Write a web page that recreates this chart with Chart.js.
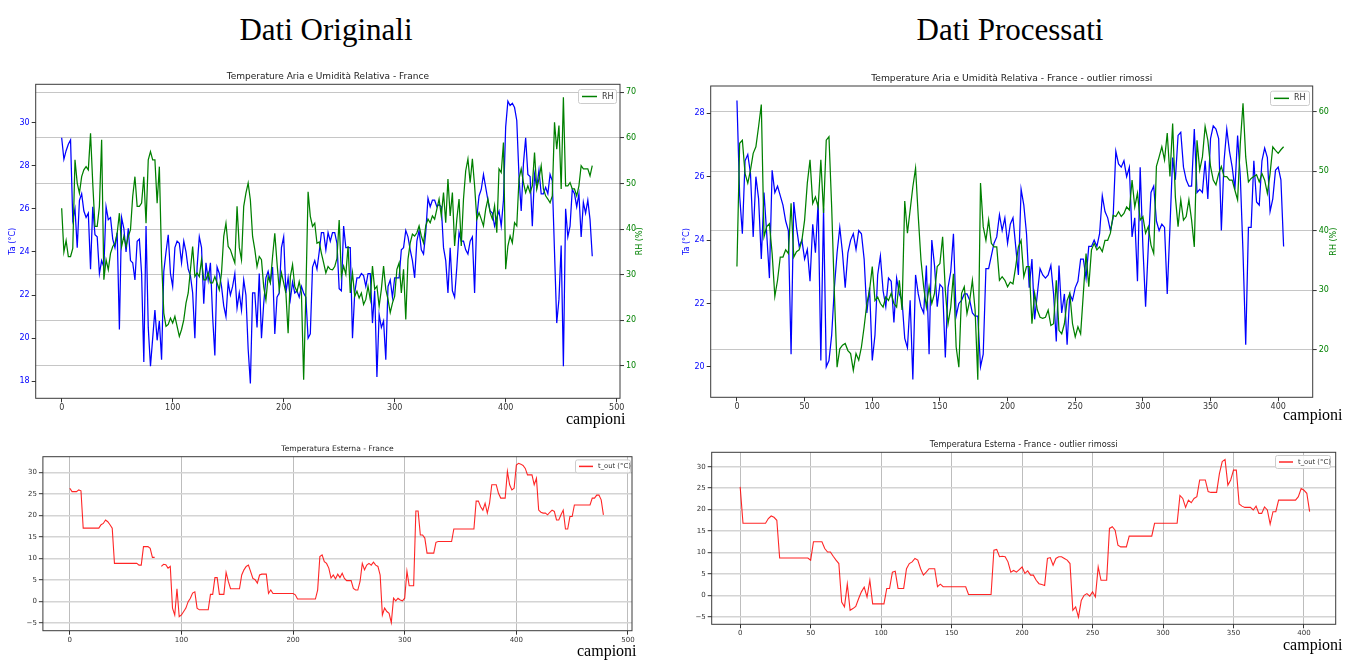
<!DOCTYPE html>
<html>
<head>
<meta charset="utf-8">
<script src="https://cdn.jsdelivr.net/npm/chart.js@4.4.1/dist/chart.umd.min.js"></script>
<style>
  html, body { margin: 0; padding: 0; background: #fff; width: 1355px; height: 662px; overflow: hidden; }
  canvas { position: absolute; }
  .hd { position: absolute; font-family: "Liberation Serif", "Times New Roman", serif; color: #000; white-space: nowrap; line-height: 1; text-align: center; }
  .xl { position: absolute; font-family: "Liberation Serif", "Times New Roman", serif; color: #000; white-space: nowrap; line-height: 1; font-size: 16px; }
</style>
</head>
<body>
<div class="hd" style="left:176px;top:14px;width:300px;font-size:31px;">Dati Originali</div>
<div class="hd" style="left:860px;top:14px;width:300px;font-size:31px;">Dati Processati</div>

<canvas id="taRhOrig" width="665" height="360" style="left:0px;top:60px;width:665px;height:360px;"></canvas>
<canvas id="taRhProc" width="685" height="360" style="left:670px;top:60px;width:685px;height:360px;"></canvas>
<canvas id="tOutOrigChart" width="660" height="220" style="left:0px;top:430px;width:660px;height:220px;"></canvas>
<canvas id="tOutProcChart" width="685" height="225" style="left:670px;top:425px;width:685px;height:225px;"></canvas>

<div class="xl" style="left:566px;top:411px;">campioni</div>
<div class="xl" style="left:1283px;top:407px;">campioni</div>
<div class="xl" style="left:577px;top:643px;">campioni</div>
<div class="xl" style="left:1283px;top:637px;">campioni</div>

<script>
// Readings are stored every two samples
const SAMPLE_STEP = 2;

// Raw series (samples 0..478)
const taOrig = [
  29.3, 28.3, 28.7, 29.0, 29.2, 25.5, 26.0, 24.2, 26.4, 26.7,
  25.9, 25.6, 25.8, 23.2, 26.1, 24.8, 24.7, 23.0, 23.6, 23.3,
  26.1, 25.5, 25.6, 24.6, 24.2, 24.9, 20.4, 25.6, 25.1, 24.0,
  25.1, 23.6, 23.5, 22.7, 24.5, 24.6, 23.0, 18.9, 25.2, 20.5,
  18.7, 20.0, 21.3, 19.9, 20.8, 19.0, 23.1, 24.0, 24.8, 23.0,
  22.4, 24.2, 24.5, 24.4, 23.5, 24.5, 24.0, 23.2, 22.9, 22.1,
  20.0, 23.3, 24.7, 24.2, 21.6, 23.5, 22.7, 23.5, 21.0, 19.2,
  23.3, 23.0, 22.4, 21.5, 21.0, 22.6, 22.0, 22.4, 23.0, 21.4,
  22.1, 21.3, 22.7, 22.0, 19.5, 17.9, 22.1, 22.1, 20.5, 23.0,
  20.0, 21.6, 22.8, 23.1, 22.6, 23.3, 20.2, 21.9, 22.1, 24.2,
  24.7, 22.1, 22.8, 21.8, 22.6, 22.1, 22.2, 21.9, 22.4, 22.1,
  21.9, 20.0, 20.2, 23.3, 23.6, 23.2, 24.0, 24.9, 24.9, 24.1,
  24.9, 24.5, 24.9, 24.9, 24.4, 22.3, 22.2, 25.2, 24.2, 24.2,
  24.2, 20.0, 22.1, 22.8, 22.8, 23.0, 22.9, 22.4, 23.0, 23.0,
  20.7, 22.2, 18.2, 21.1, 20.5, 20.8, 19.0, 22.4, 22.7, 21.9,
  22.8, 22.8, 22.8, 24.1, 24.2, 25.0, 24.7, 24.1, 23.6, 22.8,
  24.5, 25.0, 24.1, 23.9, 24.9, 26.5, 26.1, 26.4, 26.4, 26.1,
  26.2, 26.1, 24.2, 23.6, 22.1, 24.2, 22.2, 21.9, 23.3, 24.9,
  24.5, 24.5, 24.1, 23.9, 24.5, 24.7, 22.1, 25.6, 26.6, 26.9,
  27.6, 27.0, 26.4, 25.9, 25.8, 25.2, 25.6, 25.9, 25.2, 26.4,
  29.8, 31.0, 30.8, 30.9, 30.7, 30.1, 27.5, 25.9, 28.1, 29.3,
  27.6, 27.5, 25.2, 27.6, 27.0, 27.8, 26.7, 26.7, 27.0, 26.7,
  27.6, 27.3, 24.0, 20.7, 21.8, 24.3, 18.7, 26.0, 24.7, 25.2,
  26.9, 26.7, 26.1, 26.7, 24.7, 26.3, 25.8, 26.4, 25.5, 23.8
];
const rhOrig = [
  44.6, 35.0, 37.5, 34.0, 34.0, 35.8, 55.2, 50.1, 47.9, 51.5,
  53.0, 53.7, 53.0, 61.0, 50.0, 40.6, 40.6, 45.0, 59.6, 28.9,
  33.3, 31.1, 34.7, 36.2, 36.9, 39.1, 43.5, 36.2, 38.4, 36.2,
  38.4, 39.9, 47.2, 51.5, 45.0, 45.0, 45.7, 51.5, 41.3, 55.2,
  57.0, 55.2, 55.2, 45.7, 53.7, 33.3, 21.6, 18.7, 19.1, 20.5,
  19.4, 20.9, 18.7, 16.5, 18.0, 20.1, 23.8, 26.0, 31.1, 36.2,
  29.6, 30.4, 29.6, 33.3, 28.9, 28.9, 30.4, 28.2, 28.2, 29.6,
  28.2, 26.7, 30.4, 38.4, 41.3, 36.2, 35.5, 34.0, 32.6, 45.0,
  36.0, 33.3, 45.0, 47.9, 50.1, 46.4, 38.4, 35.5, 31.8, 34.0,
  33.3, 27.4, 24.5, 29.6, 28.2, 34.0, 39.1, 32.6, 26.7, 30.4,
  28.2, 26.0, 17.2, 29.6, 32.2, 27.4, 26.3, 28.5, 26.0, 7.0,
  26.0, 48.2, 42.8, 40.6, 41.3, 36.9, 37.2, 34.7, 32.6, 30.4,
  31.8, 31.2, 31.1, 31.8, 33.6, 42.0, 29.7, 31.9, 30.1, 36.3,
  26.0, 30.4, 25.3, 26.4, 24.9, 26.0, 23.5, 24.6, 27.5, 24.6,
  31.9, 26.8, 27.5, 23.1, 26.8, 31.9, 26.8, 24.6, 21.7, 23.8,
  25.3, 31.2, 32.6, 26.0, 31.2, 20.2, 33.4, 37.0, 38.9, 38.5,
  39.2, 40.7, 38.5, 37.0, 40.7, 42.2, 41.4, 42.9, 42.2, 44.4,
  46.6, 42.9, 48.0, 41.4, 51.0, 42.9, 48.0, 36.3, 42.2, 46.6,
  36.3, 46.6, 52.8, 55.4, 50.2, 55.4, 49.5, 42.2, 43.6, 42.2,
  40.7, 44.4, 46.6, 43.6, 42.2, 45.1, 39.2, 53.2, 52.4, 59.0,
  31.2, 36.3, 38.5, 37.0, 41.4, 40.7, 51.0, 53.2, 50.2, 48.0,
  49.5, 48.0, 49.5, 56.8, 48.8, 51.0, 53.9, 48.8, 47.3, 46.6,
  45.8, 47.3, 63.4, 57.5, 62.7, 48.8, 68.9, 49.5, 49.5, 50.2,
  48.8, 48.8, 47.3, 49.5, 53.9, 53.2, 53.2, 53.2, 51.7, 53.9
];
const tOutOrig = [
  26.3, 25.5, 25.5, 25.5, 25.9, 25.7, 17.0, 17.0, 17.0, 17.0,
  17.0, 17.0, 17.0, 17.0, 17.8, 18.1, 18.9, 18.5, 17.8, 17.0,
  8.8, 8.8, 8.8, 8.8, 8.8, 8.8, 8.8, 8.8, 8.8, 8.8,
  8.8, 8.4, 8.4, 12.7, 12.7, 12.7, 12.3, 10.2, 10.2, null,
  null, 8.1, 8.6, 8.5, 7.7, 8.1, -1.6, -3.2, 2.9, -3.6,
  -3.2, -2.4, -1.6, -0.1, 0.7, 1.9, 2.2, -1.6, -2.0, -2.0,
  -2.0, -2.0, -2.0, 1.6, 1.6, 5.5, 5.5, 1.6, 1.6, 1.6,
  6.7, 4.6, 2.9, 2.9, 2.9, 2.9, 2.9, 6.1, 7.3, 8.1,
  8.4, 6.9, 5.3, 5.0, 4.2, 6.1, 6.3, 6.3, 6.3, 1.8,
  2.6, 1.8, 1.8, 1.8, 1.8, 1.8, 1.8, 1.8, 1.8, 1.8,
  1.8, 1.5, 0.5, 0.5, 0.5, 0.5, 0.5, 0.5, 0.5, 0.5,
  0.5, 2.6, 10.4, 10.8, 9.2, 8.8, 7.7, 5.4, 6.1, 5.2,
  6.3, 5.5, 6.5, 5.3, 4.8, 4.8, 4.8, 3.0, 2.6, 2.6,
  4.6, 8.8, 7.3, 8.4, 8.8, 8.4, 9.1, 8.4, 8.1, 6.1,
  -3.2, -1.6, -2.4, -2.8, -5.0, 0.7, 0.1, 0.7, 0.3, 0.1,
  0.7, 7.0, 3.6, 3.6, 3.6, 21.0, 21.0, 15.4, 15.4, 14.7,
  11.2, 11.2, 11.2, 11.2, 13.7, 13.9, 13.9, 13.9, 13.9, 13.9,
  13.9, 13.9, 16.8, 16.8, 16.8, 16.8, 16.8, 16.8, 16.8, 16.8,
  16.8, 16.8, 23.3, 23.3, 22.0, 21.2, 22.8, 20.5, 22.8, 27.1,
  27.1, 27.1, 25.1, 24.0, 24.0, 24.0, 30.2, 27.1, 25.9, 26.3,
  31.7, 32.1, 31.9, 31.6, 30.9, 29.4, 29.4, 29.4, 27.1, 28.6,
  21.2, 20.7, 20.5, 20.5, 20.1, 20.7, 21.2, 20.9, 18.9, 18.9,
  20.1, 21.2, 16.8, 16.8, 19.7, 19.7, 22.4, 22.4, 22.4, 22.4,
  22.4, 22.4, 22.4, 22.4, 24.0, 24.0, 24.7, 24.7, 23.6, 20.1
];

// Series after outlier removal (samples 0..404)
const taProc = [
  28.4, 25.4, 24.2, 26.5, 26.7, 26.1, 24.1, 26.0, 25.3, 23.4,
  25.5, 24.2, 22.8, 26.2, 25.5, 25.7, 25.4, 25.1, 24.6, 24.3,
  20.4, 25.2, 24.4, 23.8, 24.0, 23.4, 23.7, 22.7, 24.5, 23.6,
  25.2, 20.2, 25.0, 20.0, 20.2, 21.0, 22.5, 23.6, 24.4, 23.6,
  22.5, 23.6, 24.0, 24.2, 23.7, 24.3, 24.2, 23.4, 21.7, 22.5,
  20.2, 21.0, 22.9, 23.5, 22.4, 21.9, 22.8, 22.7, 21.4, 22.8,
  22.3, 22.1, 20.9, 20.6, 22.1, 19.6, 22.9, 22.3, 21.9, 21.7,
  23.2, 20.4, 24.0, 23.2, 21.9, 22.6, 22.5, 20.3, 22.5, 23.0,
  24.2, 21.6, 22.0, 22.1, 22.3, 22.3, 22.1, 21.7, 21.6, 21.6,
  20.0, 20.4, 23.1, 23.1, 23.5, 23.9, 24.1, 24.8, 24.3, 24.7,
  23.9, 24.5, 24.7, 23.8, 22.9, 25.6, 25.1, 24.2, 22.5, 23.4,
  21.5, 22.3, 23.1, 22.9, 22.8, 22.9, 23.2, 22.3, 20.8, 23.2,
  21.7, 22.3, 20.7, 22.3, 22.1, 22.5, 22.7, 23.4, 23.4, 22.8,
  23.8, 23.8, 24.0, 23.8, 24.2, 25.4, 24.9, 24.7, 24.3, 24.7,
  26.8, 26.4, 26.3, 26.5, 26.0, 26.3, 24.1, 24.7, 22.7, 26.3,
  23.8, 21.9, 23.8, 25.5, 25.7, 24.6, 24.3, 24.5, 24.4, 22.3,
  24.4, 26.6, 25.9, 27.3, 27.4, 26.3, 25.9, 25.7, 25.7, 27.5,
  25.5, 25.6, 25.5, 26.5, 25.3, 27.2, 27.6, 27.5, 27.2, 24.3,
  26.5, 27.5, 26.8, 26.3, 25.6, 27.3, 26.0, 23.6, 20.7, 24.4,
  24.4, 26.5, 25.2, 25.1, 26.5, 26.9, 26.6, 24.9, 25.3, 26.2,
  26.3, 25.9, 23.8
];
const rhProc = [
  34.0, 54.7, 55.2, 49.6, 48.0, 50.2, 53.0, 54.1, 57.5, 61.2,
  39.0, 40.7, 41.2, 36.2, 29.0, 31.7, 35.6, 35.6, 36.8, 36.2,
  44.6, 35.6, 36.5, 36.8, 38.4, 41.8, 48.0, 51.9, 44.6, 45.7,
  44.0, 51.9, 43.0, 55.2, 55.8, 44.0, 29.5, 17.1, 20.2, 20.8,
  21.1, 19.9, 19.4, 16.6, 19.4, 18.3, 20.5, 23.9, 27.8, 30.0,
  34.0, 28.3, 28.9, 27.8, 27.2, 28.9, 28.3, 29.5, 27.8, 27.2,
  31.7, 26.7, 45.0, 39.6, 43.5, 47.4, 50.5, 42.4, 35.1, 30.6,
  27.2, 30.6, 27.8, 29.5, 34.0, 34.5, 39.0, 30.0, 24.4, 27.2,
  32.8, 20.5, 17.1, 29.5, 30.6, 26.1, 28.3, 31.7, 26.7, 15.0,
  48.0, 40.7, 38.4, 41.8, 37.9, 37.3, 37.3, 31.7, 32.3, 31.7,
  30.6, 31.4, 31.1, 34.0, 37.3, 38.4, 32.3, 34.0, 34.0, 24.4,
  29.5, 26.7, 25.5, 25.3, 25.5, 26.7, 24.1, 24.4, 31.7, 23.3,
  22.7, 24.4, 28.3, 29.5, 24.4, 22.2, 23.9, 22.7, 29.5, 36.2,
  30.6, 36.8, 37.9, 36.8, 37.3, 36.5, 38.4, 38.4, 39.6, 42.6,
  42.4, 43.2, 42.4, 42.9, 44.0, 43.5, 48.5, 44.0, 46.3, 41.8,
  42.4, 39.6, 40.7, 37.6, 36.2, 50.8, 52.4, 54.1, 51.9, 56.4,
  49.1, 58.0, 45.7, 40.7, 45.2, 41.8, 42.4, 45.2, 41.8, 37.3,
  55.2, 50.2, 52.4, 57.5, 55.2, 50.8, 48.5, 47.7, 49.6, 50.8,
  49.1, 49.1, 48.5, 48.5, 46.8, 45.2, 54.7, 61.4, 52.4, 48.2,
  48.8, 49.1, 49.4, 48.2, 49.6, 48.5, 46.3, 49.6, 54.1, 53.5,
  53.0, 53.6, 54.1
];
const tOutProc = [
  25.3, 16.8, 16.8, 16.8, 16.8, 16.8, 16.8, 16.8, 16.8, 16.8,
  17.9, 18.5, 18.2, 17.5, 8.7, 8.7, 8.7, 8.7, 8.7, 8.7,
  8.7, 8.7, 8.7, 8.7, 8.7, 8.2, 12.5, 12.5, 12.5, 12.5,
  10.9, 10.1, 10.1, 9.1, 8.2, 7.4, -1.6, -2.7, 2.6, -3.5,
  -3.1, -2.6, -0.8, 0.8, 1.9, -0.4, 3.5, -2.0, -2.0, -2.0,
  -2.0, -2.0, 1.6, 1.6, 5.4, 5.6, 1.6, 1.6, 1.6, 6.2,
  7.4, 7.8, 8.6, 8.2, 6.2, 4.7, 5.4, 6.2, 6.2, 6.2,
  2.0, 2.6, 2.0, 2.0, 2.0, 2.0, 2.0, 2.0, 2.0, 2.0,
  2.0, 0.2, 0.2, 0.2, 0.2, 0.2, 0.2, 0.2, 0.2, 0.2,
  10.5, 10.7, 9.0, 9.1, 9.0, 7.8, 5.4, 5.8, 5.4, 6.0,
  6.6, 5.1, 5.7, 4.7, 4.7, 3.5, 2.7, 2.5, 2.3, 8.6,
  8.8, 7.0, 8.6, 9.0, 9.0, 8.6, 8.2, 7.4, -3.5, -2.7,
  -5.1, -1.2, 0.0, 0.4, -0.2, 0.8, -0.4, 6.6, 3.5, 3.5,
  3.5, 15.6, 16.0, 15.2, 11.7, 11.3, 11.3, 11.3, 13.8, 13.8,
  13.8, 13.8, 13.8, 13.8, 13.8, 13.8, 13.8, 16.8, 16.8, 16.8,
  16.8, 16.8, 16.8, 16.8, 16.8, 16.8, 23.3, 22.6, 20.5, 22.2,
  21.6, 22.6, 23.0, 26.9, 26.9, 26.9, 24.2, 24.0, 24.0, 24.0,
  28.4, 31.2, 31.7, 25.7, 26.9, 29.2, 29.2, 21.3, 20.8, 20.5,
  20.5, 20.5, 19.9, 20.8, 19.1, 19.1, 20.6, 19.9, 16.6, 19.5,
  19.5, 22.2, 22.2, 22.2, 22.2, 22.2, 22.2, 22.2, 23.0, 24.9,
  24.5, 23.8, 19.5
];

// Tick positions
const xTicksOrig = [0, 100, 200, 300, 400, 500];
const xTicksProc = [0, 50, 100, 150, 200, 250, 300, 350, 400];
const taTicksOrig = [18, 20, 22, 24, 26, 28, 30];
const rhTicksOrig = [10, 20, 30, 40, 50, 60, 70];
const taTicksProc = [20, 22, 24, 26, 28];
const rhTicksProc = [20, 30, 40, 50, 60];
const tOutTicks = [-5, 0, 5, 10, 15, 20, 25, 30];

const BLUE = '#0000ff', GREEN = '#008000', RED = 'rgba(255,0,0,0.85)';
const FONT = 'DejaVu Sans';
Chart.defaults.font.family = FONT;

function toPoints(values) {
  return values.map((v, i) => ({ x: i * SAMPLE_STEP, y: v }));
}
function fixedTicks(list) {
  return scale => { scale.ticks = list.map(v => ({ value: v })); };
}
const minusSign = v => String(v).replace('-', '\u2212');

// Title, frame, rotated axis labels and the in-plot legend
const panelDecor = {
  id: 'panelDecor',
  afterDraw(chart, args, o) {
    const ctx = chart.ctx, a = chart.chartArea;
    ctx.save();
    // frame
    ctx.strokeStyle = '#3a3a3a';
    ctx.lineWidth = 1;
    ctx.strokeRect(a.left, a.top, a.right - a.left, a.bottom - a.top);
    // title
    ctx.fillStyle = '#222';
    ctx.font = o.titleSize + 'px "' + FONT + '"';
    ctx.textAlign = 'center';
    ctx.textBaseline = 'middle';
    ctx.fillText(o.title, (a.left + a.right) / 2, o.titleY);
    // rotated axis labels
    const midY = (a.top + a.bottom) / 2;
    (o.axisLabels || []).forEach(l => {
      ctx.save();
      ctx.translate(l.x, midY);
      ctx.rotate(-Math.PI / 2);
      ctx.fillStyle = l.color;
      ctx.font = o.labelSize + 'px "' + FONT + '"';
      ctx.fillText(l.text, 0, 0);
      ctx.restore();
    });
    // legend
    const g = o.legend;
    const ds = chart.data.datasets[g.dataset];
    const lx = a.right - g.dx - g.w, ly = a.top + g.dy;
    ctx.fillStyle = 'rgba(255,255,255,0.85)';
    ctx.strokeStyle = '#cccccc';
    ctx.lineWidth = 1;
    ctx.beginPath();
    ctx.roundRect(lx + 0.5, ly + 0.5, g.w, g.h, 2);
    ctx.fill();
    ctx.stroke();
    ctx.strokeStyle = ds.borderColor;
    ctx.lineWidth = 1.5;
    ctx.beginPath();
    ctx.moveTo(lx + 4, ly + g.h / 2 + 0.5);
    ctx.lineTo(lx + 4 + g.line, ly + g.h / 2 + 0.5);
    ctx.stroke();
    ctx.fillStyle = '#333';
    ctx.font = g.size + 'px "' + FONT + '"';
    ctx.textAlign = 'left';
    ctx.fillText(ds.label, lx + 9 + g.line, ly + g.h / 2 + 0.5);
    ctx.restore();
  }
};

function baseOptions(box) {
  return {
    responsive: false,
    animation: false,
    devicePixelRatio: 1,
    events: [],
    layout: { padding: { top: box.top, left: 0, right: box.right || 0, bottom: 0 } },
    elements: { point: { radius: 0 }, line: { tension: 0 } },
    plugins: { legend: { display: false }, tooltip: { enabled: false }, title: { display: false } }
  };
}

function tickFont(size) { return { family: FONT, size: size }; }

// Air temperature + relative humidity panel
function humidityChart(id, ta, rh, cfg) {
  const opts = baseOptions(cfg.box);
  opts.plugins.panelDecor = cfg.decor;
  opts.scales = {
    x: {
      type: 'linear', min: cfg.xMin, max: cfg.xMax,
      afterBuildTicks: fixedTicks(cfg.xTicks),
      afterFit: s => { s.height = cfg.box.xH; },
      grid: { drawOnChartArea: false, tickLength: 4, tickColor: '#333', tickWidth: 1 },
      border: { display: false },
      ticks: { color: '#333', font: tickFont(8), padding: 1, maxRotation: 0, autoSkip: false }
    },
    yTa: {
      type: 'linear', position: 'left', min: cfg.taMin, max: cfg.taMax,
      afterBuildTicks: fixedTicks(cfg.taTicks),
      afterFit: s => { s.width = cfg.box.leftW; },
      grid: { drawOnChartArea: false, tickLength: 4, tickColor: '#333', tickWidth: 1 },
      border: { display: false },
      ticks: { color: BLUE, font: tickFont(8), padding: 2, autoSkip: false }
    },
    yRH: {
      type: 'linear', position: 'right', min: cfg.rhMin, max: cfg.rhMax,
      afterBuildTicks: fixedTicks(cfg.rhTicks),
      afterFit: s => { s.width = cfg.box.rightW; },
      grid: { drawOnChartArea: true, color: '#c6c6c6', lineWidth: 1.1, tickLength: 4, tickColor: '#333', tickWidth: 1 },
      border: { display: false },
      ticks: { color: GREEN, font: tickFont(8), padding: 2, autoSkip: false }
    }
  };
  return new Chart(document.getElementById(id), {
    type: 'line',
    data: {
      datasets: [
        { label: 'RH', data: toPoints(rh), yAxisID: 'yRH', borderColor: GREEN, borderWidth: 1.25 },
        { label: 'Ta (°C)', data: toPoints(ta), yAxisID: 'yTa', borderColor: BLUE, borderWidth: 1.25 }
      ]
    },
    options: opts,
    plugins: [panelDecor]
  });
}

// Outdoor temperature panel
function outdoorChart(id, tOut, cfg) {
  const opts = baseOptions(cfg.box);
  opts.plugins.panelDecor = cfg.decor;
  opts.scales = {
    x: {
      type: 'linear', min: cfg.xMin, max: cfg.xMax,
      afterBuildTicks: fixedTicks(cfg.xTicks),
      afterFit: s => { s.height = cfg.box.xH; },
      grid: { drawOnChartArea: true, color: '#bdbdbd', lineWidth: 1, tickLength: 4, tickColor: '#333', tickWidth: 1 },
      border: { display: false },
      ticks: { color: '#333', font: tickFont(7), padding: 1, maxRotation: 0, autoSkip: false }
    },
    y: {
      type: 'linear', position: 'left', min: cfg.yMin, max: cfg.yMax,
      afterBuildTicks: fixedTicks(tOutTicks),
      afterFit: s => { s.width = cfg.box.leftW; },
      grid: { drawOnChartArea: true, color: '#d4d4d4', lineWidth: 1.4, tickLength: 4, tickColor: '#333', tickWidth: 1 },
      border: { display: false },
      ticks: { color: '#333', font: tickFont(7), padding: 2, autoSkip: false, callback: minusSign }
    }
  };
  return new Chart(document.getElementById(id), {
    type: 'line',
    data: {
      datasets: [
        { label: 't_out (°C)', data: toPoints(tOut), borderColor: RED, borderWidth: 1.1, spanGaps: false }
      ]
    },
    options: opts,
    plugins: [panelDecor]
  });
}

humidityChart('taRhOrig', taOrig, rhOrig, {
  box: { top: 24.3, leftW: 35.7, rightW: 45, xH: 21.7 },
  xMin: -23.4, xMax: 503, xTicks: xTicksOrig,
  taMin: 17.21, taMax: 31.78, taTicks: taTicksOrig,
  rhMin: 2.92, rhMax: 71.75, rhTicks: rhTicksOrig,
  decor: {
    title: 'Temperature Aria e Umidità Relativa - France', titleY: 16.5, titleSize: 9, labelSize: 8,
    axisLabels: [ { text: 'Ta (°C)', x: 12.7, color: BLUE }, { text: 'RH (%)', x: 640, color: GREEN } ],
    legend: { dataset: 0, w: 38, h: 14, dx: 4, dy: 4.7, line: 15, size: 8 }
  }
});

humidityChart('taRhProc', taProc, rhProc, {
  box: { top: 26, leftW: 40.7, rightW: 42.3, xH: 22.7 },
  xMin: -19.4, xMax: 425.5, xTicks: xTicksProc,
  taMin: 19.04, taMax: 28.86, taTicks: taTicksProc,
  rhMin: 12.06, rhMax: 64.3, rhTicks: rhTicksProc,
  decor: {
    title: 'Temperature Aria e Umidità Relativa - France - outlier rimossi', titleY: 18.3, titleSize: 9.2, labelSize: 8,
    axisLabels: [ { text: 'Ta (°C)', x: 16.7, color: BLUE }, { text: 'RH (%)', x: 663.5, color: GREEN } ],
    legend: { dataset: 0, w: 39, h: 14.3, dx: 3.7, dy: 4.7, line: 15, size: 8 }
  }
});

outdoorChart('tOutOrigChart', tOutOrig, {
  box: { top: 26.7, leftW: 42.9, right: 28, xH: 19.3 },
  xMin: -24.1, xMax: 503.6, xTicks: xTicksOrig,
  yMin: -6.86, yMax: 33.63,
  decor: {
    title: 'Temperatura Esterna - France', titleY: 19, titleSize: 7.6, labelSize: 7,
    axisLabels: [],
    legend: { dataset: 0, w: 55, h: 13, dx: 2, dy: 2.7, line: 14, size: 6.8 }
  }
});

outdoorChart('tOutProcChart', tOutProc, {
  box: { top: 27.3, leftW: 41.7, right: 19.3, xH: 25.7 },
  xMin: -20.2, xMax: 422.5, xTicks: xTicksProc,
  yMin: -6.77, yMax: 33.36,
  decor: {
    title: 'Temperatura Esterna - France - outlier rimossi', titleY: 20, titleSize: 8.2, labelSize: 7,
    axisLabels: [],
    legend: { dataset: 0, w: 55, h: 13, dx: 5.7, dy: 2.7, line: 14, size: 6.8 }
  }
});
</script>
</body>
</html>
